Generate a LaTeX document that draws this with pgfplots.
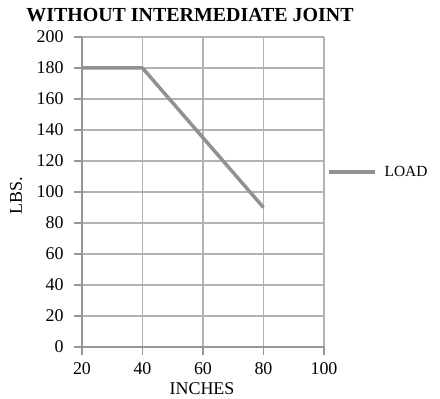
\documentclass[border=0pt]{standalone}
\usepackage{pgfplots}
\pgfplotsset{compat=1.18}
\usepackage{fontspec}
\setmainfont{Liberation Serif}
\definecolor{gridc}{RGB}{178,178,178}
\definecolor{axc}{RGB}{150,150,150}
\definecolor{linec}{RGB}{145,145,145}
\begin{document}
\begin{tikzpicture}[x=1bp,y=1bp]
\path (-82bp,-50bp) rectangle (358bp,347bp);
\begin{axis}[
  at={(0,0)}, anchor=south west,
  width=242bp, height=310bp, scale only axis,
  xmin=20, xmax=100, ymin=0, ymax=200,
  xtick={20,40,60,80,100}, ytick={0,20,...,200},
  grid=major,
  major grid style={gridc, line width=1.3pt},
  axis line style={axc, line width=1.8pt},
  axis x line*=bottom, axis y line*=left,
  tick style={axc, line width=1.3pt},
  major tick length=8bp,
  tick pos=left, tick align=outside,
  ticklabel style={font=\fontsize{18}{18}\selectfont, text=black},
  xticklabel style={yshift=-4bp},
  yticklabel style={xshift=-7bp},
  /pgf/number format/assume math mode=true,
  legend style={at={(1.0,0.565)}, anchor=west, draw=none, fill=none,
    font=\fontsize{15.5}{15.5}\selectfont, legend cell align=left,
    /tikz/every even column/.append style={column sep=0pt}},
  legend image code/.code={\draw[#1, line width=3.5pt] (0bp,0bp) -- (46bp,0bp);},
  clip=false,
]
\addplot[linec, line width=3.5pt, line join=round] coordinates {(20,180) (40,180) (80,90)};
\addlegendentry{\hspace{6bp}LOAD}
\end{axis}
\node[font=\bfseries\fontsize{20}{20}\selectfont, anchor=center] at (108bp,332bp) {WITHOUT INTERMEDIATE JOINT};
\node[font=\fontsize{18}{18}\selectfont] at (120bp,-42bp) {INCHES};
\node[font=\fontsize{18}{18}\selectfont, rotate=90] at (-66bp,151bp) {LBS.};
\end{tikzpicture}
\end{document}
